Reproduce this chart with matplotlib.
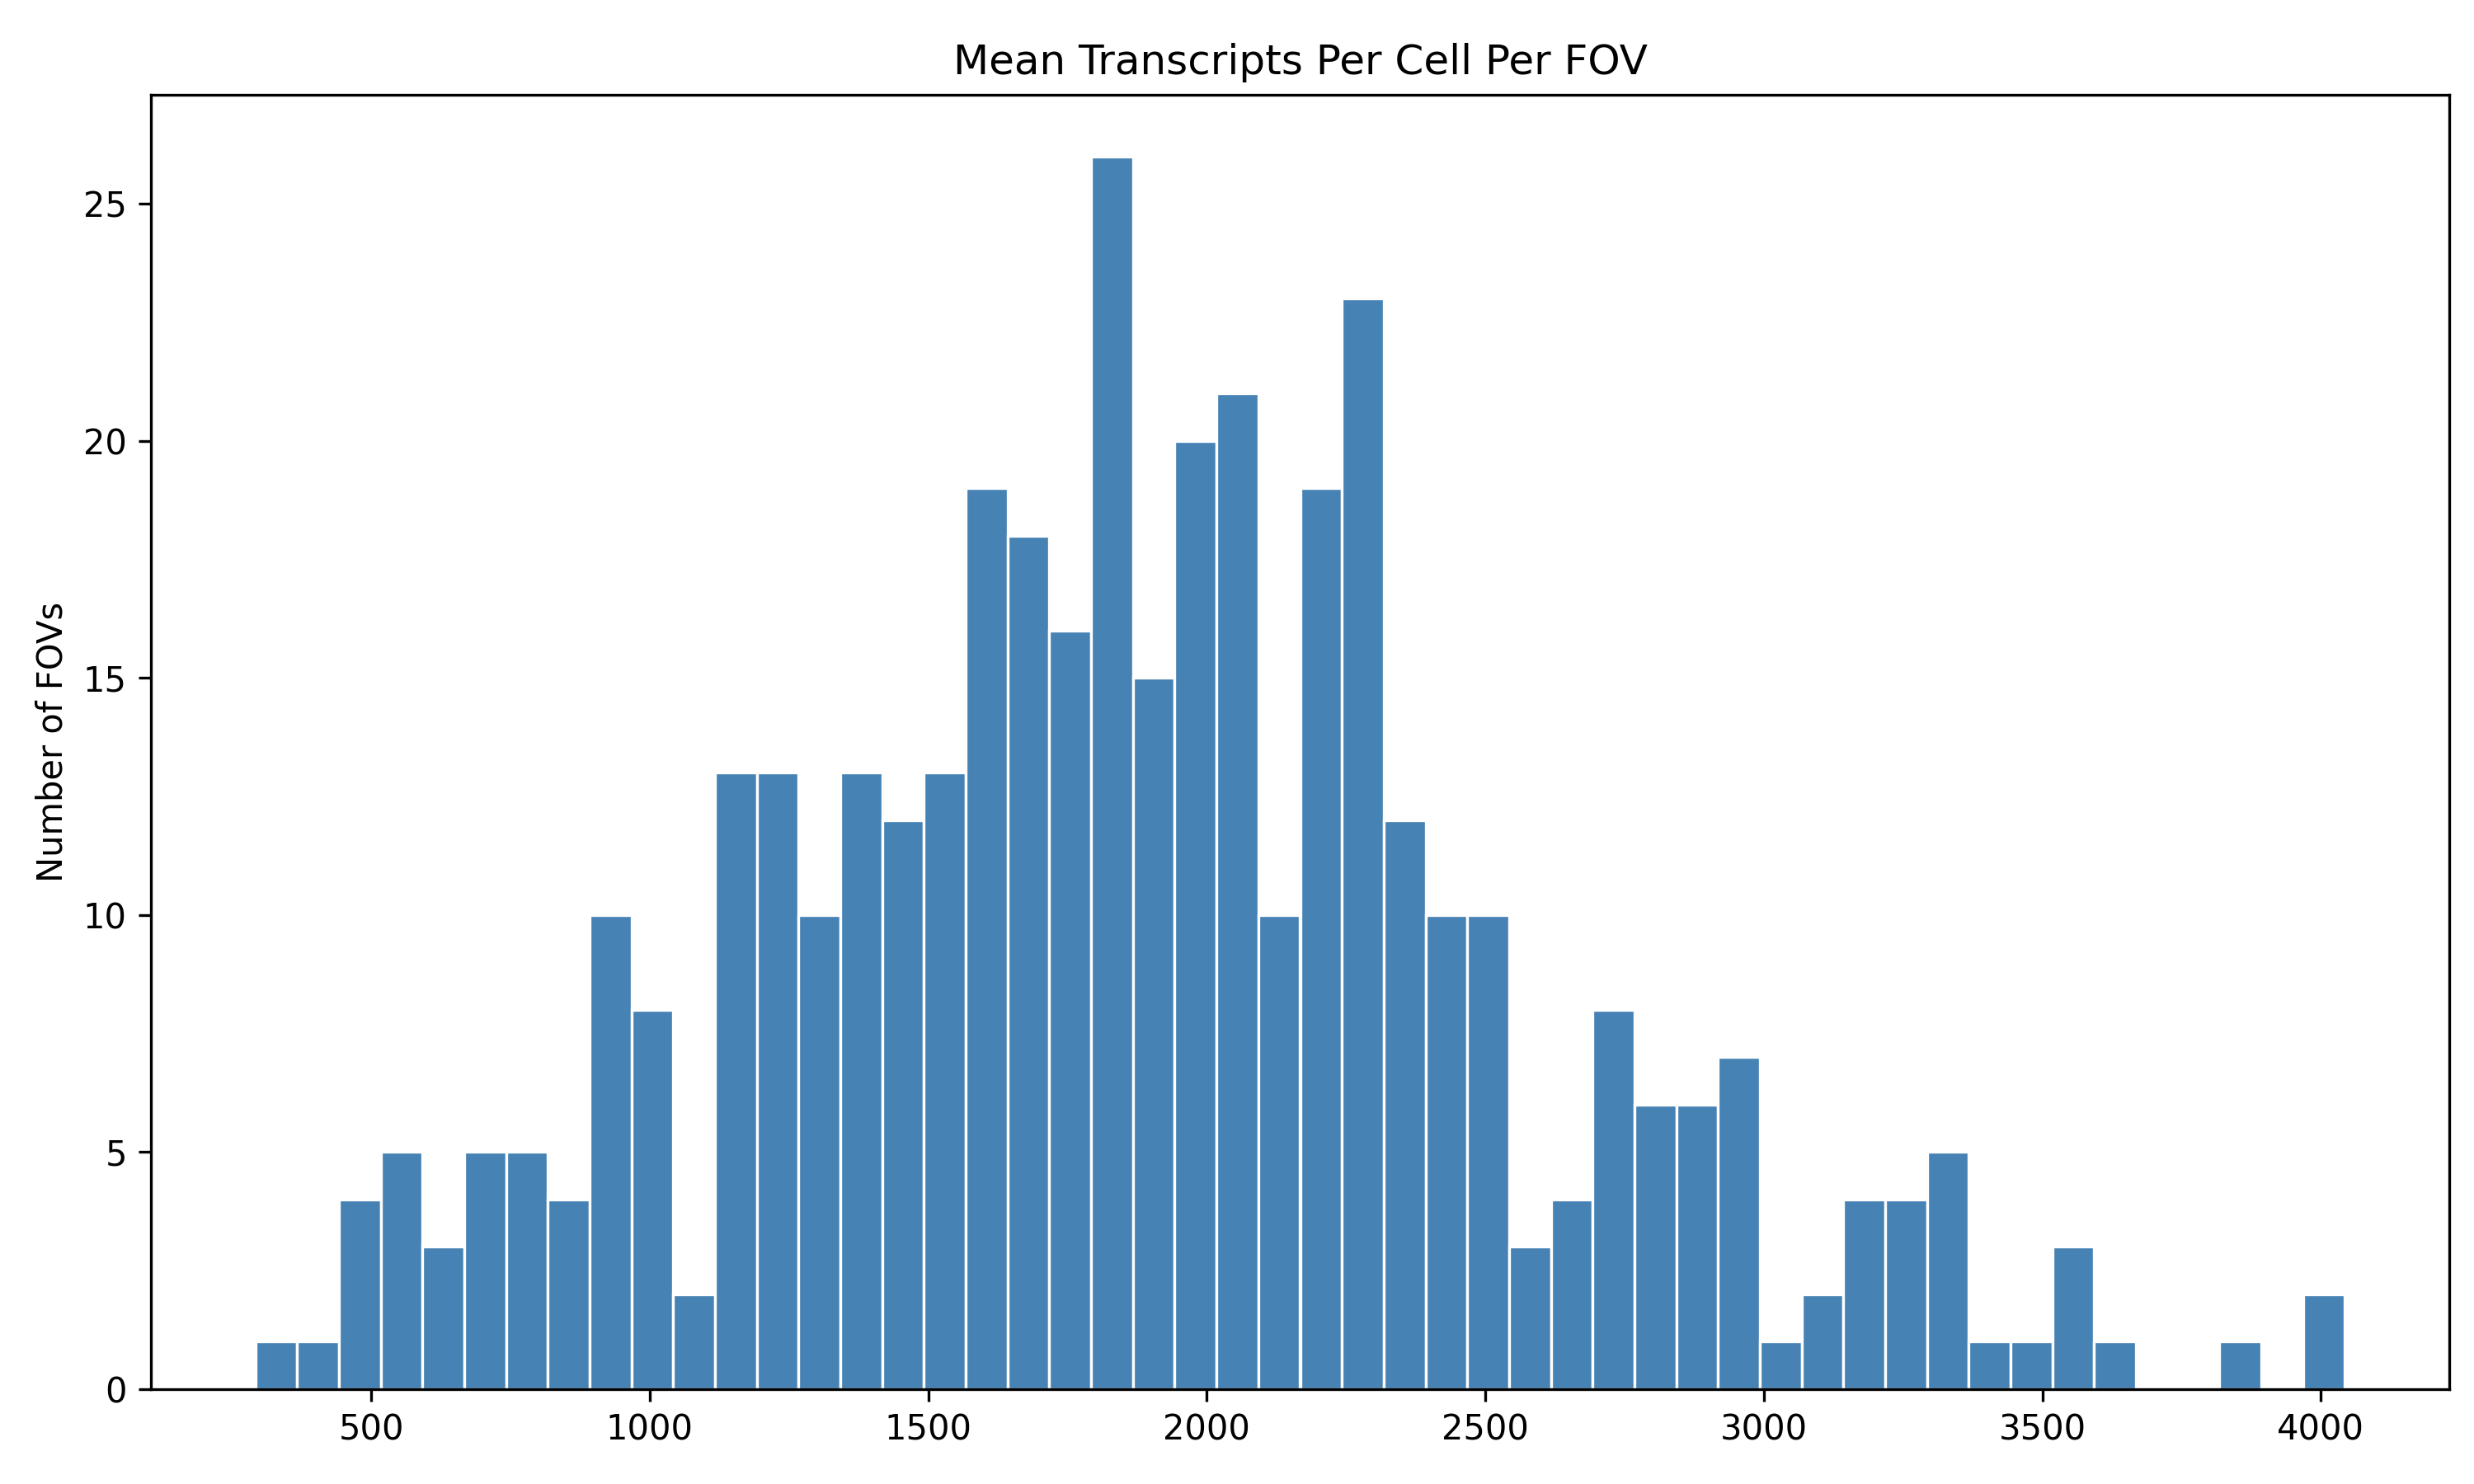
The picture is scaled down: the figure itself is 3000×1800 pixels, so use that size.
import numpy as np
import matplotlib
matplotlib.use('Agg')
import matplotlib.pyplot as plt

# histogram counts, 50 equal bins
bin_min = 292
bin_max = 4043
counts = [1, 1, 4, 5, 3, 5, 5, 4, 10, 8,
          2, 13, 13, 10, 13, 12, 13, 19, 18, 16,
          26, 15, 20, 21, 10, 19, 23, 12, 10, 10,
          3, 4, 8, 6, 6, 7, 1, 2, 4, 4,
          5, 1, 1, 3, 1, 0, 0, 1, 0, 2]

edges = np.linspace(bin_min, bin_max, len(counts) + 1)
centers = (edges[:-1] + edges[1:]) / 2

fig, ax = plt.subplots(figsize=(10, 6), dpi=300)
ax.hist(centers, bins=edges, weights=counts, color='steelblue',
        edgecolor='white', linewidth=0.8)
ax.set_title('Mean Transcripts Per Cell Per FOV')
ax.set_ylabel('Number of FOVs')
fig.subplots_adjust(left=0.061, right=0.99, top=0.936, bottom=0.064)
fig.savefig('out.png', dpi=300)
